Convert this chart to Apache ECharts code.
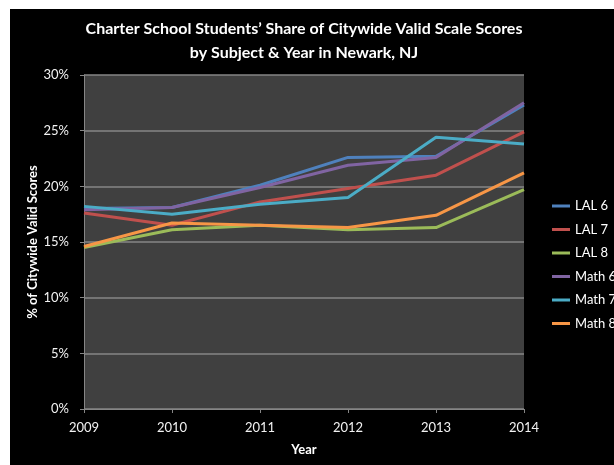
<!DOCTYPE html>
<html>
<head>
<meta charset="utf-8">
<script src="https://cdn.jsdelivr.net/npm/echarts@6/dist/echarts.min.js"></script>
<style>
  html, body { margin: 0; padding: 0; background: #ffffff; }
  .line-echarts-box { position: absolute; left: 10px; top: 9px; width: 604px; height: 456px; }
</style>
</head>
<body>
<section class="line-echarts-box"></section>
<script>
  /******************/
  //region    //data

  let years = ['2009', '2010', '2011', '2012', '2013', '2014'];
  let seriesNames = ['LAL 6', 'LAL 7', 'LAL 8', 'Math 6', 'Math 7', 'Math 8'];
  let lal6 = [18.0, 18.1, 20.1, 22.6, 22.7, 27.3];
  let lal7 = [17.6, 16.5, 18.6, 19.8, 21.0, 24.9];
  let lal8 = [14.5, 16.1, 16.5, 16.1, 16.3, 19.7];
  let math6 = [17.9, 18.1, 19.9, 21.9, 22.6, 27.5];
  let math7 = [18.2, 17.5, 18.4, 19.0, 24.4, 23.8];
  let math8 = [14.6, 16.7, 16.5, 16.3, 17.4, 21.2];
  let colors = ['#4F81BD', '#C0504D', '#9BBB59', '#8064A2', '#4BACC6', '#F79646'];

  //endregion

  /******************/
  //region    //function

  /**
   * 配置折线图
   */
  function deployEchart() {
    let echart = echarts.init(document.getElementsByClassName('line-echarts-box')[0]);
    let values = [lal6, lal7, lal8, math6, math7, math8];
    let font = 'Lato, "Open Sans", sans-serif';

    let option = {
      backgroundColor: '#000000',
      color: colors,
      animation: false,
      title: {
        text: 'Charter School Students\u2019 Share of Citywide Valid Scale Scores\nby Subject & Year in Newark, NJ',
        left: 294,
        textAlign: 'center',
        top: 8,
        padding: 0,
        textStyle: {
          color: '#ffffff',
          fontFamily: font,
          fontWeight: 'bold',
          fontSize: 16,
          lineHeight: 24,
        },
      },
      legend: {
        orient: 'vertical',
        left: 542,
        top: 190,
        padding: 0,
        icon: 'rect',
        itemWidth: 18,
        itemHeight: 3,
        itemGap: 9.5,
        data: seriesNames,
        textStyle: {
          color: '#ffffff',
          fontFamily: font,
          fontSize: 13,
          lineHeight: 14,
        },
      },
      grid: {
        show: true,
        left: 74,
        right: 90,
        top: 66,
        bottom: 56,
        backgroundColor: '#404040',
        borderWidth: 0,
      },
      xAxis: {
        type: 'category',
        data: years,
        boundaryGap: false,
        name: 'Year',
        nameLocation: 'middle',
        nameGap: 34,
        nameMoveOverlap: false,
        nameTextStyle: {
          color: '#ffffff',
          fontFamily: font,
          fontWeight: 'bold',
          fontSize: 13,
        },
        axisLine: { lineStyle: { color: '#868686', width: 1 } },
        axisTick: { show: true, length: 4, lineStyle: { color: '#868686' } },
        axisLabel: {
          color: '#f2f2f2',
          fontFamily: font,
          fontSize: 13,
          margin: 12,
        },
      },
      yAxis: {
        type: 'value',
        min: 0,
        max: 30,
        interval: 5,
        name: '% of Citywide Valid Scores',
        nameLocation: 'middle',
        nameGap: 45,
        nameMoveOverlap: false,
        nameTextStyle: {
          color: '#ffffff',
          fontFamily: font,
          fontWeight: 'bold',
          fontSize: 13,
        },
        axisLine: { show: true, lineStyle: { color: '#868686', width: 1 } },
        axisTick: { show: true, length: 4, lineStyle: { color: '#868686' } },
        axisLabel: {
          color: '#f2f2f2',
          fontFamily: font,
          fontSize: 13,
          margin: 15,
          formatter: '{value}%',
        },
        splitLine: { lineStyle: { color: '#868686', width: 1.5 } },
      },
      series: seriesNames.map((name, i) => ({
        name: name,
        type: 'line',
        data: values[i],
        symbol: 'none',
        lineStyle: { width: 3, color: colors[i] },
      })),
    };

    echart.setOption(option);
  }

  deployEchart();

  //endregion
</script>
</body>
</html>
